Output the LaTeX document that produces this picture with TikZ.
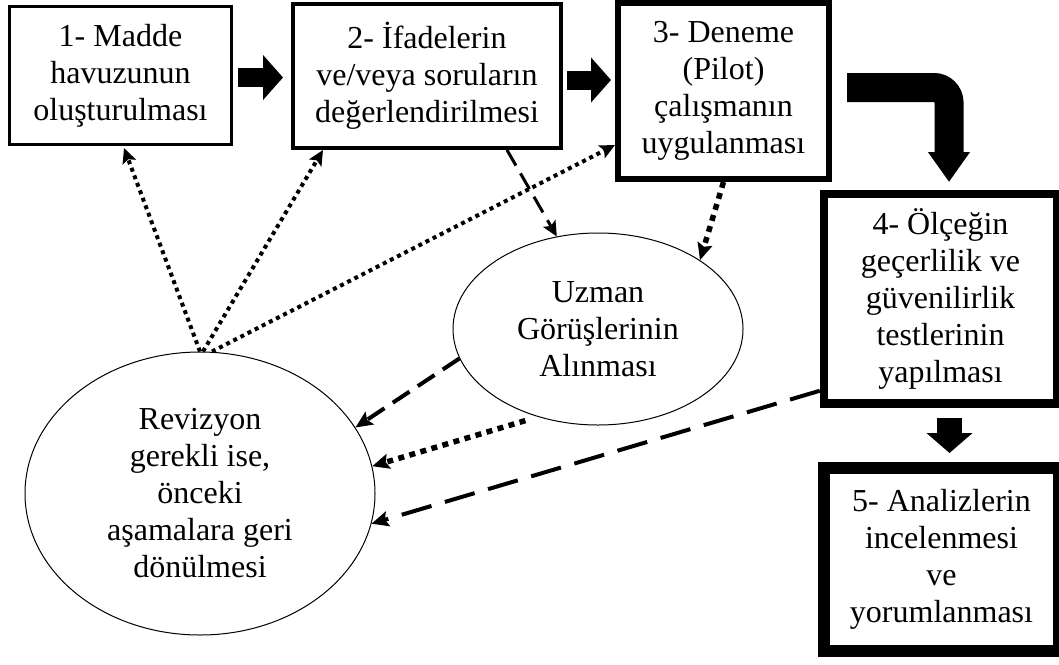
\documentclass[tikz,border=0pt]{standalone}
\usepackage{fontspec}
\setmainfont{Liberation Serif}
\usetikzlibrary{arrows.meta,shapes.geometric}

\begin{document}
\begin{tikzpicture}[x=1pt,y=-1pt,
  lbl/.style={font=\fontsize{32}{37}\selectfont, align=center, inner sep=0pt},
  stage/.style={lbl, draw, rectangle},
  oval/.style={lbl, draw, ellipse, line width=1pt},
  tipS/.style={-{Stealth[length=15pt,width=14pt,inset=3pt]}},
  tipL/.style={-{Stealth[length=17pt,width=15pt,inset=3pt]}},
  finedot/.style={line width=4pt, dash pattern=on 4pt off 4pt, tipS},
  heavydot/.style={line width=5.5pt, dash pattern=on 6pt off 5.5pt, tipL},
  blockR/.style={line width=19pt, -{Triangle[length=20pt,width=44pt]}}
]
% canvas
\path[fill=white,use as bounding box] (0,0) rectangle (1059,664);

% stages
\node[stage, line width=3pt, minimum width=222pt, minimum height=138pt] (b1) at (120.5,75.5)
  {1- Madde\\havuzunun\\oluşturulması};
\node[stage, line width=4pt, minimum width=268pt, minimum height=144pt] (b2) at (427,76)
  {2- İfadelerin\\ve/veya soruların\\değerlendirilmesi};
\node[stage, line width=6pt, minimum width=211pt, minimum height=176pt] (b3) at (723.5,91)
  {3- Deneme\\(Pilot)\\çalışmanın\\uygulanması};
\node[stage, line width=8.5pt, minimum width=233pt, minimum height=209.5pt] (b4) at (940.5,298.75)
  {4- Ölçeğin\\geçerlilik ve\\güvenilirlik\\testlerinin\\yapılması};
\node[stage, line width=12pt, minimum width=235pt, minimum height=183pt] (b5) at (941.5,559.5)
  {5- Analizlerin\\incelenmesi\\ve\\yorumlanması};

% side activities
\node[oval, minimum width=290pt, minimum height=192pt] (uz) at (598,329)
  {Uzman\\Görüşlerinin\\Alınması};
\node[oval, minimum width=350pt, minimum height=283pt] (rev) at (200,493.5)
  {Revizyon\\gerekli ise,\\önceki\\aşamalara geri\\dönülmesi};

% main flow
\draw[blockR] ([xshift=5pt,yshift=-2pt]b1.east) -- ([xshift=-8pt,yshift=-1.5pt]b2.west);
\draw[blockR] ([xshift=4pt,yshift=-4pt]b2.east) -- ([xshift=-4pt,yshift=11pt]b3.west);
\draw[line width=29pt, rounded corners=15pt, -{Triangle[length=30pt,width=40pt]}]
  ([xshift=15pt,yshift=3.5pt]b3.east) -| ([xshift=8.5pt,yshift=7.75pt]b4.north);
\draw[line width=25pt, -{Triangle[length=20pt,width=45pt]}]
  ([xshift=9pt,yshift=-10pt]b4.south) -- ([xshift=8pt,yshift=9pt]b5.north);

% feedback to earlier stages
\draw[finedot] (rev.north) -- ([xshift=3.5pt,yshift=-2pt]b1.south);
\draw[finedot] ([xshift=3pt]rev.north) -- ([xshift=32pt]b2.south west);
\draw[finedot] ([xshift=12pt]rev.north) -- ([yshift=37pt]b3.south west);

% expert review links
\draw[line width=3pt, dash pattern=on 18pt off 9pt, tipS] ([xshift=-56pt]b2.south east) -- (uz.114);
\draw[heavydot] (b3.south) -- (uz.34);
\draw[line width=4pt, dash pattern=on 20pt off 10pt, tipL] (uz.192) -- (rev.23);
\draw[heavydot] ([yshift=-8pt]uz.229) -- (rev.9);
\draw[line width=4pt, dash pattern=on 31pt off 14pt, tipL] ([yshift=17pt]b4.south west) -- (rev.-10);
\end{tikzpicture}
\end{document}
